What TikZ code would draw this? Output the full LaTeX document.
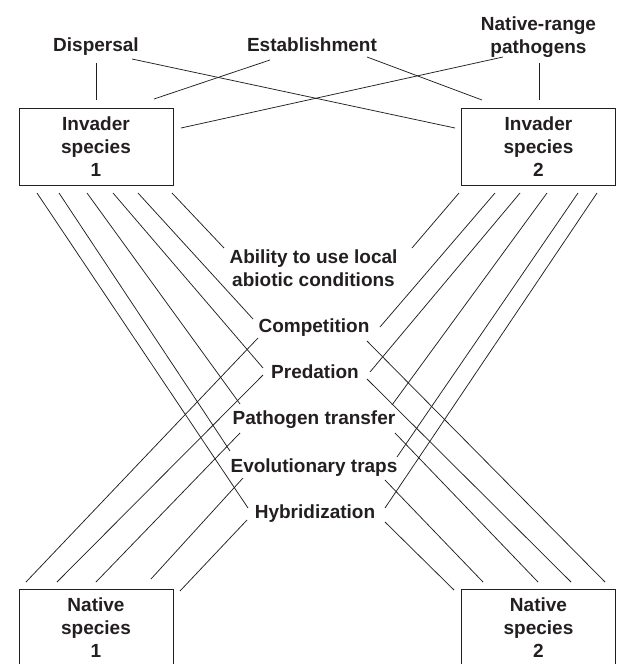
\documentclass[tikz,border=0pt]{standalone}
\usepackage{fontspec}
\setmainfont{Liberation Sans}
\usetikzlibrary{positioning}
\definecolor{ink}{HTML}{231F20}

\tikzset{
  box/.style={draw=ink, line width=0.9pt, minimum width=154pt, minimum height=77pt,
    inner sep=0pt, align=center, text=ink, font=\bfseries\fontsize{19}{23}\selectfont},
  lbl/.style={text=ink, inner sep=0pt, text height=13.5pt, text depth=4pt,
    font=\bfseries\fontsize{19}{23}\selectfont},
  lbltwo/.style={text=ink, inner sep=0pt, align=center,
    font=\bfseries\fontsize{19}{23}\selectfont},
  link/.style={draw=ink, line width=0.75pt}
}

\begin{document}
\begin{tikzpicture}[x=1pt, y=-1pt]
\useasboundingbox (0,0) rectangle (616,664);

% causes on top
\node[lbl] (disp) at (96,47) {Dispersal};
\node[lbl] (estab) at (312,47) {Establishment};
\node[lbltwo] (nrp) at (538.5,37) {Native-range\\pathogens};

% species boxes
\node[box] (inv1) at (96,146.5) {Invader\\species\\1};
\node[box] (inv2) at (538.5,146.5) {Invader\\species\\2};
\node[box] (nat1) at (96,627.5) {Native\\species\\1};
\node[box] (nat2) at (538.5,627.5) {Native\\species\\2};

% interactions
\node[lbltwo] (abil) at (313.5,268) {Ability to use local\\abiotic conditions};
\node[lbl] (comp) at (314,328) {Competition};
\node[lbl] (pred) at (315,374) {Predation};
\node[lbl] (path) at (314,420) {Pathogen transfer};
\node[lbl] (evol) at (314,468) {Evolutionary traps};
\node[lbl] (hybr) at (315,514) {Hybridization};

% top links
\draw[link] ([shift={(0,16)}]disp.center) -- ([shift={(0,-46.5)}]inv1.center);
\draw[link] ([shift={(36,12)}]disp.center) -- ([shift={(-83.5,-18.5)}]inv2.center);
\draw[link] ([shift={(-42,13)}]estab.center) -- ([shift={(58,-47.5)}]inv1.center);
\draw[link] ([shift={(55,10)}]estab.center) -- ([shift={(-56.5,-46.5)}]inv2.center);
\draw[link] ([shift={(-35.5,20)}]nrp.center) -- ([shift={(85,-18.5)}]inv1.center);
\draw[link] ([shift={(0.5,26)}]nrp.center) -- ([shift={(0.5,-46.5)}]inv2.center);

% invader 1 to interactions
\draw[link] ([shift={(76,46.5)}]inv1.center) -- ([shift={(-89.5,-20)}]abil.center);
\draw[link] ([shift={(42,46.5)}]inv1.center) -- ([shift={(-61,-9)}]comp.center);
\draw[link] ([shift={(17,46.5)}]inv1.center) -- ([shift={(-52,-6)}]pred.center);
\draw[link] ([shift={(-9,46.5)}]inv1.center) -- ([shift={(-74,-16)}]path.center);
\draw[link] ([shift={(-37,46.5)}]inv1.center) -- ([shift={(-84,-17)}]evol.center);
\draw[link] ([shift={(-59,46.5)}]inv1.center) -- ([shift={(-67,-6)}]hybr.center);

% invader 2 to interactions
\draw[link] ([shift={(-79.5,46.5)}]inv2.center) -- ([shift={(98.5,-20)}]abil.center);
\draw[link] ([shift={(-43.5,46.5)}]inv2.center) -- ([shift={(66,-1)}]comp.center);
\draw[link] ([shift={(-18.5,46.5)}]inv2.center) -- ([shift={(55,-2)}]pred.center);
\draw[link] ([shift={(8.5,46.5)}]inv2.center) -- ([shift={(78,-15)}]path.center);
\draw[link] ([shift={(39.5,46.5)}]inv2.center) -- ([shift={(83,-11)}]evol.center);
\draw[link] ([shift={(58.5,46.5)}]inv2.center) -- ([shift={(70,-6)}]hybr.center);

% interactions to native 1
\draw[link] ([shift={(-56,10)}]comp.center) -- ([shift={(-70,-45.5)}]nat1.center);
\draw[link] ([shift={(-52,1)}]pred.center) -- ([shift={(-39,-45.5)}]nat1.center);
\draw[link] ([shift={(-74,13)}]path.center) -- ([shift={(0,-45.5)}]nat1.center);
\draw[link] ([shift={(-71,10)}]evol.center) -- ([shift={(55,-48.5)}]nat1.center);
\draw[link] ([shift={(-68,6)}]hybr.center) -- ([shift={(84,-36.5)}]nat1.center);

% interactions to native 2
\draw[link] ([shift={(53,13)}]comp.center) -- ([shift={(66.5,-45.5)}]nat2.center);
\draw[link] ([shift={(52,5)}]pred.center) -- ([shift={(32.5,-45.5)}]nat2.center);
\draw[link] ([shift={(81,13)}]path.center) -- ([shift={(-0.5,-45.5)}]nat2.center);
\draw[link] ([shift={(71,12)}]evol.center) -- ([shift={(-55.5,-45.5)}]nat2.center);
\draw[link] ([shift={(70,8)}]hybr.center) -- ([shift={(-84.5,-37.5)}]nat2.center);
\end{tikzpicture}
\end{document}
